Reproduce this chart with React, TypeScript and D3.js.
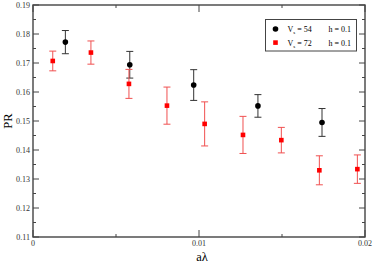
import { useEffect, useRef } from "react";
import * as d3 from "d3";

// series: V_s = 54 (black circles)
const xs54 = [0.00195, 0.00583, 0.00968, 0.01355, 0.01741];
const pr54 = [0.1772, 0.1694, 0.1624, 0.1552, 0.1495];
const err54 = [0.0040, 0.0046, 0.0053, 0.0039, 0.0048];

// series: V_s = 72 (red squares)
const xs72 = [0.00119, 0.00349, 0.00578, 0.00807, 0.01034, 0.01265, 0.01496, 0.01725, 0.01954];
const pr72 = [0.1707, 0.1736, 0.1628, 0.1553, 0.1490, 0.1452, 0.1434, 0.1330, 0.1334];
const err72 = [0.0034, 0.0040, 0.0050, 0.0064, 0.0076, 0.0064, 0.0044, 0.0050, 0.0049];

const xTicks = [0, 0.01, 0.02];
const xMinor = [0.005, 0.015];
const yTicks = [0.11, 0.12, 0.13, 0.14, 0.15, 0.16, 0.17, 0.18, 0.19];
const yMinor = [0.115, 0.125, 0.135, 0.145, 0.155, 0.165, 0.175, 0.185];

const legendRows = [
  { v: "54", h: "0.1", color: "#000", shape: "circle" },
  { v: "72", h: "0.1", color: "#ff0000", shape: "square" },
];

export default function App() {
  const svgRef = useRef<SVGSVGElement>(null);

  useEffect(() => {
    const svg = d3.select(svgRef.current);
    svg.html("");

    const left = 33, right = 365, top = 5, bottom = 237;
    const x = d3.scaleLinear().domain([0, 0.02]).range([left, right]);
    const y = d3.scaleLinear().domain([0.11, 0.19]).range([bottom, top]);
    const font = "'Liberation Serif', 'Times New Roman', serif";
    const axisColor = "#444";

    const g = svg.append("g");

    // frame
    g.append("rect")
      .attr("x", left).attr("y", top)
      .attr("width", right - left).attr("height", bottom - top)
      .attr("fill", "none").attr("stroke", axisColor).attr("stroke-width", 1.4);

    // x ticks (bottom + top, inward)
    const xt = (vals: number[], len: number) => {
      vals.forEach(v => {
        g.append("line").attr("x1", x(v)).attr("x2", x(v))
          .attr("y1", bottom).attr("y2", bottom - len)
          .attr("stroke", axisColor).attr("stroke-width", 1);
        g.append("line").attr("x1", x(v)).attr("x2", x(v))
          .attr("y1", top).attr("y2", top + len)
          .attr("stroke", axisColor).attr("stroke-width", 1);
      });
    };
    xt(xTicks, 7);
    xt(xMinor, 3);

    const yt = (vals: number[], len: number) => {
      vals.forEach(v => {
        g.append("line").attr("x1", left).attr("x2", left + len)
          .attr("y1", y(v)).attr("y2", y(v))
          .attr("stroke", axisColor).attr("stroke-width", 1);
        g.append("line").attr("x1", right).attr("x2", right - len)
          .attr("y1", y(v)).attr("y2", y(v))
          .attr("stroke", axisColor).attr("stroke-width", 1);
      });
    };
    yt(yTicks, 6);
    yt(yMinor, 3);

    // tick labels
    g.selectAll(".xl").data(xTicks).enter().append("text")
      .attr("x", d => x(d)).attr("y", 246)
      .attr("text-anchor", "middle")
      .attr("font-family", font).attr("font-size", 8).attr("fill", "#333")
      .text(d => d === 0 ? "0" : d3.format(".2f")(d));

    g.selectAll(".yl").data(yTicks).enter().append("text")
      .attr("x", 30).attr("y", d => y(d) + 3)
      .attr("text-anchor", "end")
      .attr("font-family", font).attr("font-size", 8).attr("fill", "#333")
      .text(d => d3.format(".2f")(d));

    // axis titles
    g.append("text").attr("x", 202).attr("y", 260.5)
      .attr("text-anchor", "middle")
      .attr("font-family", font).attr("font-size", 12.5).attr("fill", "#000")
      .text("aλ");
    g.append("text")
      .attr("transform", `translate(12,121) rotate(-90)`)
      .attr("text-anchor", "middle")
      .attr("font-family", font).attr("font-size", 12.5).attr("fill", "#000")
      .text("PR");

    // error bars
    const errBars = (xs: number[], ys: number[], es: number[], color: string) => {
      xs.forEach((xv, i) => {
        const cx = x(xv);
        const y1 = y(ys[i] + es[i]);
        const y2 = y(ys[i] - es[i]);
        g.append("line").attr("x1", cx).attr("x2", cx).attr("y1", y1).attr("y2", y2)
          .attr("stroke", color).attr("stroke-width", 1);
        [y1, y2].forEach(yy => {
          g.append("line").attr("x1", cx - 3.5).attr("x2", cx + 3.5).attr("y1", yy).attr("y2", yy)
            .attr("stroke", color).attr("stroke-width", 1);
        });
      });
    };
    errBars(xs54, pr54, err54, "#333");
    errBars(xs72, pr72, err72, "#f05050");

    // markers
    g.selectAll(".c54").data(xs54).enter().append("circle")
      .attr("cx", d => x(d)).attr("cy", (d, i) => y(pr54[i]))
      .attr("r", 2.8).attr("fill", "#000");
    g.selectAll(".s72").data(xs72).enter().append("rect")
      .attr("x", d => x(d) - 2.3).attr("y", (d, i) => y(pr72[i]) - 2.3)
      .attr("width", 4.6).attr("height", 4.6).attr("fill", "#ff0000");

    // legend
    const lg = g.append("g");
    lg.append("rect").attr("x", 265.5).attr("y", 19.5).attr("width", 91).attr("height", 31.5)
      .attr("fill", "#fff").attr("stroke", "#444").attr("stroke-width", 1);
    legendRows.forEach((r, i) => {
      const ly = 29 + i * 13.6;
      if (r.shape === "circle") {
        lg.append("circle").attr("cx", 275.5).attr("cy", ly).attr("r", 2.8).attr("fill", r.color);
      } else {
        lg.append("rect").attr("x", 273.2).attr("y", ly - 2.3).attr("width", 4.6).attr("height", 4.6)
          .attr("fill", r.color);
      }
      const t = lg.append("text").attr("x", 287.5).attr("y", ly + 3)
        .attr("font-family", font).attr("font-size", 8).attr("fill", "#000");
      t.append("tspan").text("V");
      t.append("tspan").attr("font-size", 5).attr("dy", 2).text("s");
      t.append("tspan").attr("dy", -2).text(` = ${r.v}`);
      lg.append("text").attr("x", 328.5).attr("y", ly + 3)
        .attr("font-family", font).attr("font-size", 8).attr("fill", "#000")
        .text(`h = ${r.h}`);
    });
  }, []);

  return (
    <svg ref={svgRef} width={374} height={262}
      style={{ position: "absolute", left: 0, top: 0, background: "#fff" }} />
  );
}
